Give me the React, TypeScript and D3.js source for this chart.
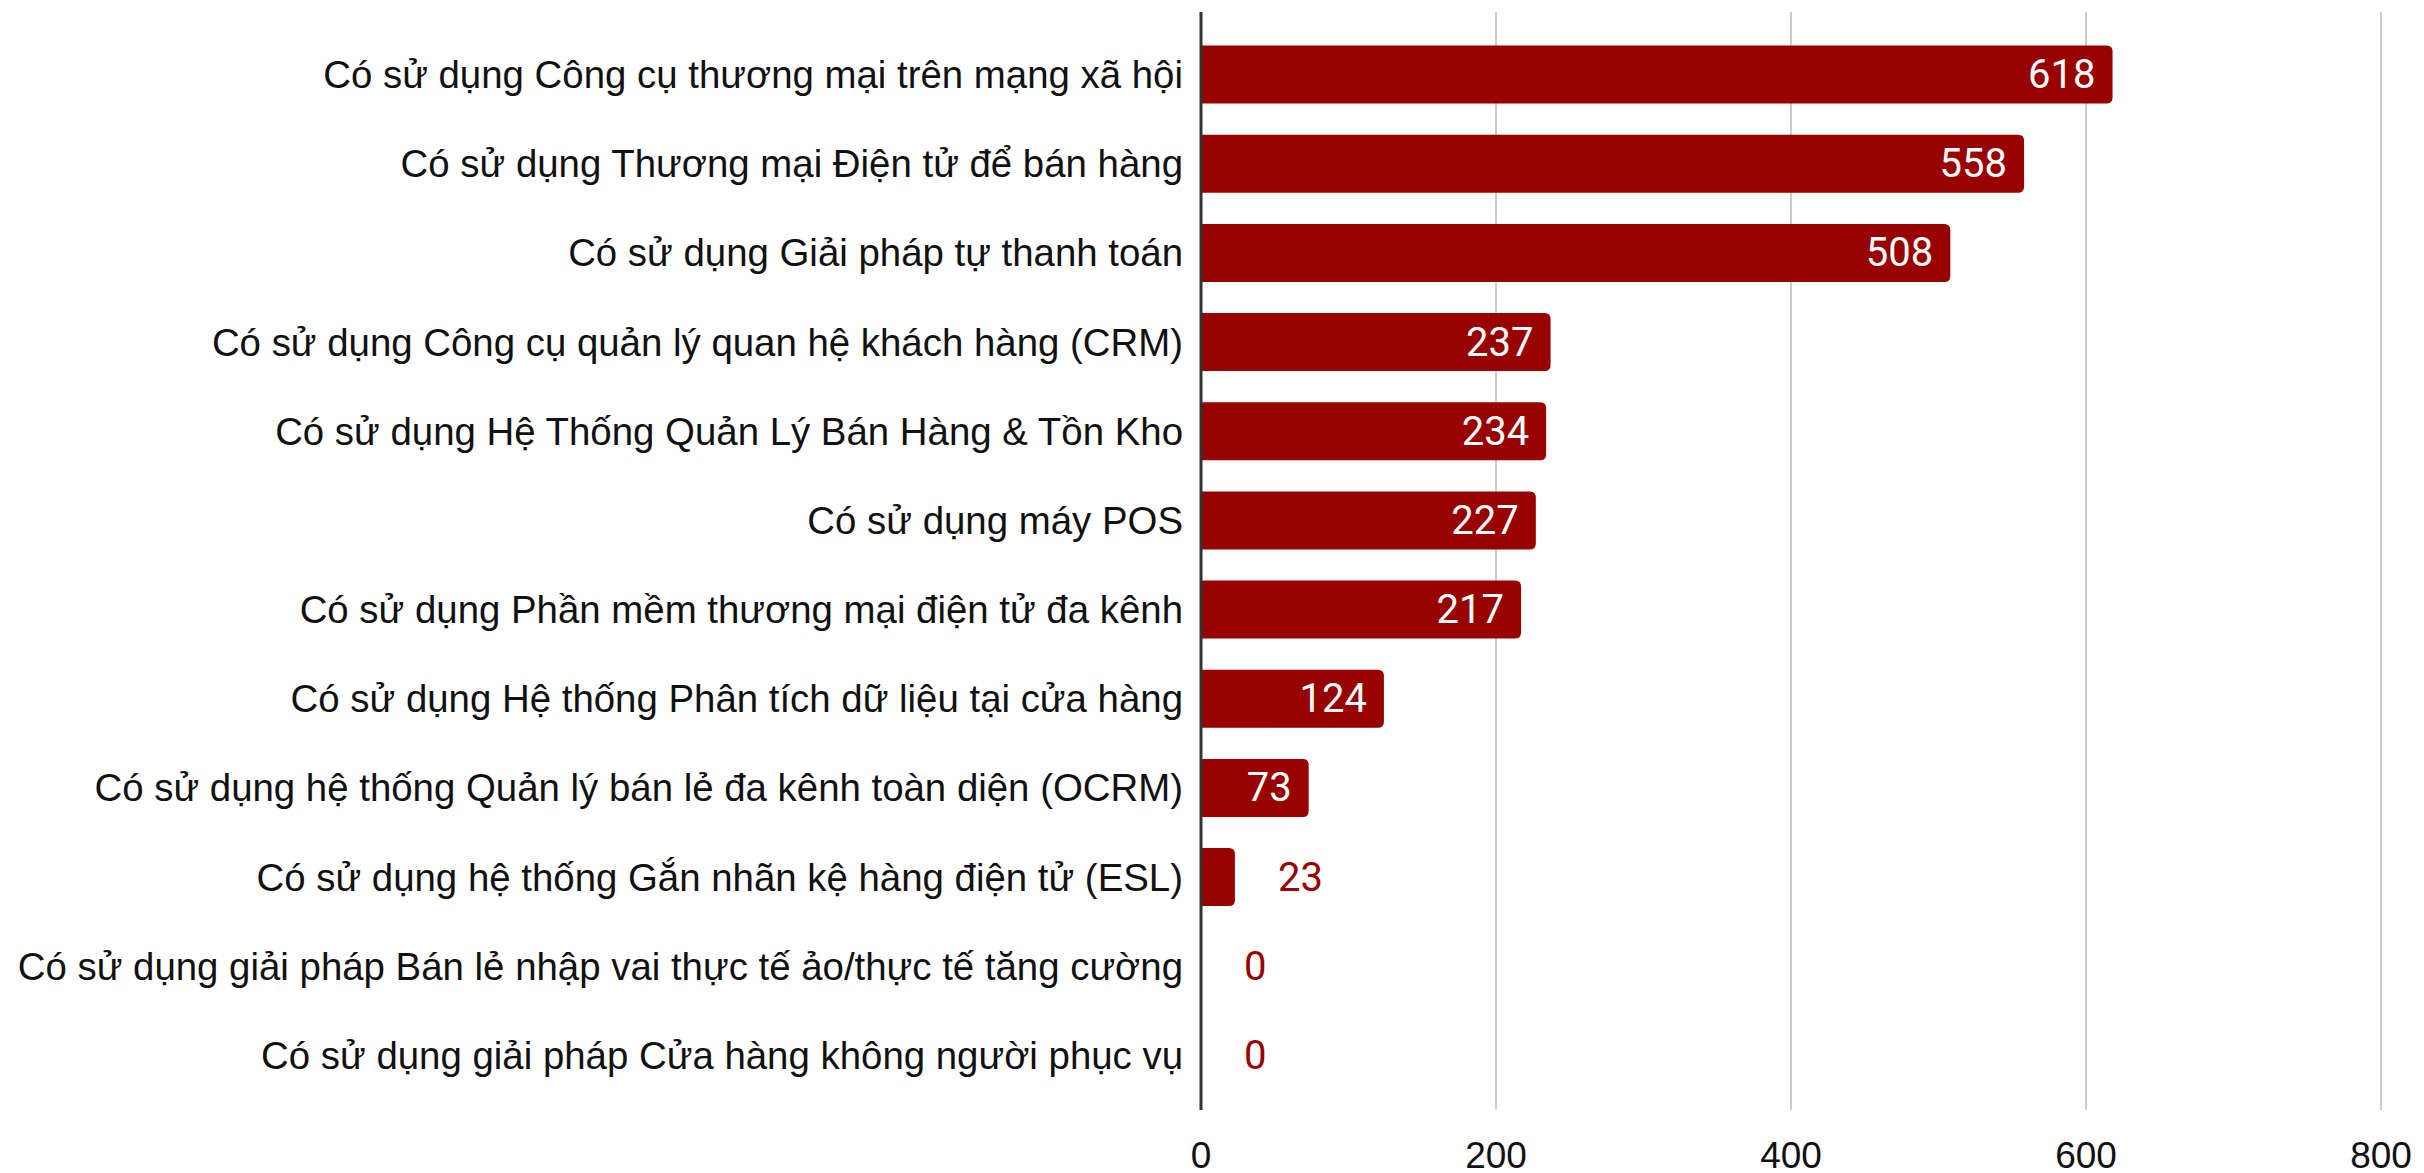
import React from "react";
import * as d3 from "d3";

const categories: string[] = [
  "Có sử dụng Công cụ thương mại trên mạng xã hội",
  "Có sử dụng Thương mại Điện tử để bán hàng",
  "Có sử dụng Giải pháp tự thanh toán",
  "Có sử dụng Công cụ quản lý quan hệ khách hàng (CRM)",
  "Có sử dụng Hệ Thống Quản Lý Bán Hàng & Tồn Kho",
  "Có sử dụng máy POS",
  "Có sử dụng Phần mềm thương mại điện tử đa kênh",
  "Có sử dụng Hệ thống Phân tích dữ liệu tại cửa hàng",
  "Có sử dụng hệ thống Quản lý bán lẻ đa kênh toàn diện (OCRM)",
  "Có sử dụng hệ thống Gắn nhãn kệ hàng điện tử (ESL)",
  "Có sử dụng giải pháp Bán lẻ nhập vai thực tế ảo/thực tế tăng cường",
  "Có sử dụng giải pháp Cửa hàng không người phục vụ",
];
const values: number[] = [618, 558, 508, 237, 234, 227, 217, 124, 73, 23, 0, 0];
const ticks: number[] = [0, 200, 400, 600, 800];

const W = 2424;
const H = 1173;
const X0 = 1201;
const X1 = 2381;
const Y0 = 30;
const Y1 = 1100;
const BAR = "#990000";

function barPath(x0: number, x1: number, y: number, h: number, r: number) {
  const w = x1 - x0;
  if (w <= 0) return "";
  const rr = Math.min(r, w, h / 2);
  return `M${x0},${y}H${x1 - rr}Q${x1},${y} ${x1},${y + rr}V${y + h - rr}Q${x1},${y + h} ${x1 - rr},${y + h}H${x0}Z`;
}

export default function App() {
  const x = d3.scaleLinear().domain([0, 800]).range([X0, X1]);
  const y = d3.scaleBand<string>().domain(categories).range([Y0, Y1]).paddingInner(0.35).paddingOuter(0.175);
  const bh = y.bandwidth();
  return (
    <svg width={W} height={H} style={{ position: "absolute", left: 0, top: 0, background: "#fff" }}>
      {ticks.slice(1).map((t) => (
        <line key={t} x1={x(t)} x2={x(t)} y1={12} y2={1110} stroke="#cccccc" strokeWidth={2} />
      ))}
      {ticks.map((t) => (
        <text key={"t" + t} x={x(t)} y={1155} textAnchor="middle" dominantBaseline="central"
          fontFamily="Liberation Sans, Arial, sans-serif" fontSize={37} fill="#111">{t}</text>
      ))}
      {categories.map((c, i) => {
        const v = values[i];
        const yy = y(c)!;
        const cy = yy + bh / 2;
        const inside = x(v) - x(0) > 90;
        return (
          <g key={c}>
            <path d={barPath(x(0), x(v), yy, bh, 6)} fill={BAR} />
            <text x={X0 - 18} y={cy} textAnchor="end" dominantBaseline="central"
              fontFamily="Liberation Sans, Arial, sans-serif" fontSize={38.4} fill="#111">{c}</text>
            <text x={inside ? x(v) - 17 : x(v) + 43} y={cy} textAnchor={inside ? "end" : "start"}
              dominantBaseline="central" fontFamily="Roboto, sans-serif" fontSize={40}
              fontWeight={400} fill={inside ? "#fff" : BAR}>{v}</text>
          </g>
        );
      })}
      <line x1={X0} x2={X0} y1={12} y2={1110} stroke="#333" strokeWidth={3} />
    </svg>
  );
}
